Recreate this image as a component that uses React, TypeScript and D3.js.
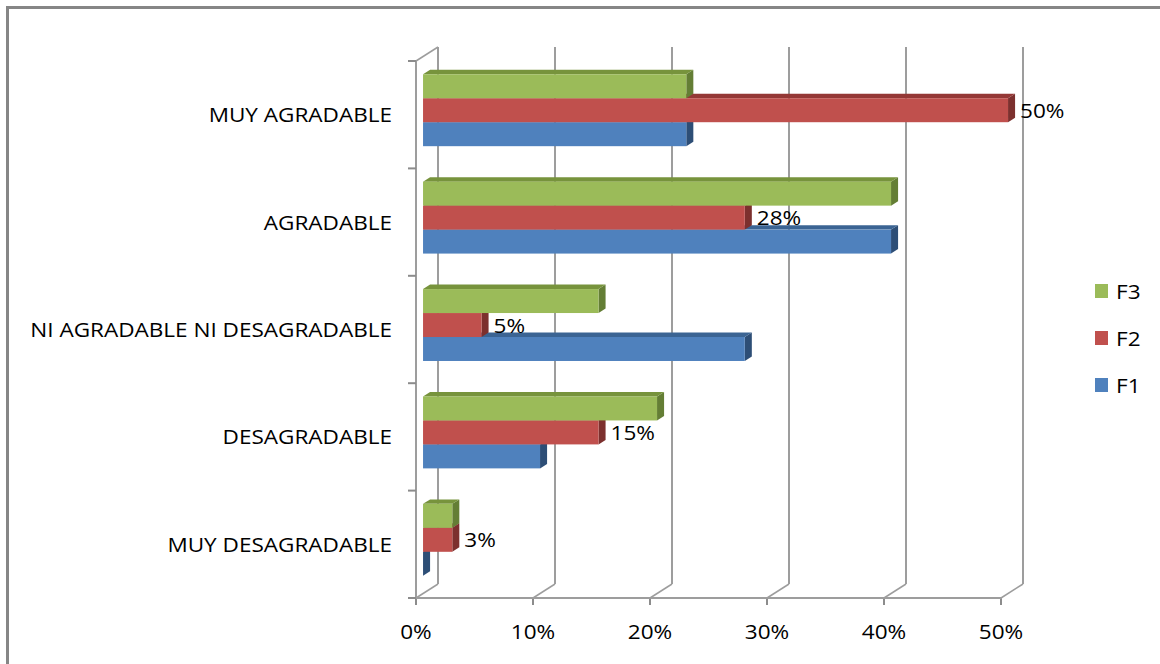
import React from 'react';
import * as d3 from 'd3';

const categories = ['MUY AGRADABLE', 'AGRADABLE', 'NI AGRADABLE NI DESAGRADABLE', 'DESAGRADABLE', 'MUY DESAGRADABLE'];
const seriesNames = ['F3', 'F2', 'F1'];
const f1Values = [0.225, 0.4, 0.275, 0.1, 0];
const f2Values = [0.5, 0.275, 0.05, 0.15, 0.025];
const f3Values = [0.225, 0.4, 0.15, 0.2, 0.025];
const xTickValues = [0, 0.1, 0.2, 0.3, 0.4, 0.5];
const labelledSeries = 'F2';

const W = 1160;
const H = 664;
const FRONT_LEFT = 416;
const FRONT_RIGHT = 1001;
const FRONT_TOP = 61;
const FRONT_BOTTOM = 598;
const DX = 22;
const DY = -14;
const Z_FRONT = 0.32;
const Z_BACK = 0.64;
const FONT = "'Open Sans', 'Liberation Sans', sans-serif";
const FS = 20.5;
const SX = 1.1;

const colors: Record<string, { front: string; top: string; side: string }> = {
  F1: { front: '#4F81BD', top: '#3B6493', side: '#2D4E76' },
  F2: { front: '#C0504D', top: '#943836', side: '#7C302E' },
  F3: { front: '#9BBB59', top: '#77933C', side: '#647E35' },
};

const valuesBySeries: Record<string, number[]> = { F1: f1Values, F2: f2Values, F3: f3Values };

const fmt = d3.format('.0%');

function SText({ x, y, anchor, children }: { x: number; y: number; anchor: string; children: React.ReactNode }) {
  return (
    <text
      transform={`translate(${x},${y}) scale(${SX},1)`}
      textAnchor={anchor}
      fontFamily={FONT}
      fontSize={FS}
      fill="#000"
    >
      {children}
    </text>
  );
}

export default function App() {
  const x = d3.scaleLinear().domain([0, 0.5]).range([FRONT_LEFT, FRONT_RIGHT]);
  const y0 = d3.scaleBand<string>().domain(categories).range([FRONT_TOP, FRONT_BOTTOM]).padding(0);
  const y1 = d3
    .scaleBand<string>()
    .domain(seriesNames)
    .range([0, y0.bandwidth()])
    .paddingInner(0)
    .paddingOuter(0.74);

  const zfx = Z_FRONT * DX;
  const zfy = Z_FRONT * DY;
  const ddx = (Z_BACK - Z_FRONT) * DX;
  const ddy = (Z_BACK - Z_FRONT) * DY;
  const gridColor = '#9d9d9d';
  const drawOrder = [...seriesNames].reverse();

  const boundaries = [...categories.map((c) => y0(c) as number), FRONT_BOTTOM];

  return (
    <svg
      width={W}
      height={H}
      style={{ position: 'absolute', left: 0, top: 0, display: 'block', background: '#fff' }}
    >
      <rect x={0} y={0} width={W} height={H} fill="#fff" />
      <rect x={7.5} y={7.5} width={W + 40} height={H + 40} fill="none" stroke="#868686" strokeWidth={3} />

      {/* back wall gridlines and floor diagonals */}
      {xTickValues.map((t) => (
        <g key={`g${t}`}>
          <line
            x1={x(t) + DX}
            x2={x(t) + DX}
            y1={FRONT_BOTTOM + DY}
            y2={FRONT_TOP + DY}
            stroke={gridColor}
            strokeWidth={2}
          />
          <line
            x1={x(t)}
            x2={x(t) + DX}
            y1={FRONT_BOTTOM}
            y2={FRONT_BOTTOM + DY}
            stroke={gridColor}
            strokeWidth={1.5}
          />
          <line x1={x(t)} x2={x(t)} y1={FRONT_BOTTOM} y2={FRONT_BOTTOM + 7} stroke="#8c8c8c" strokeWidth={2} />
        </g>
      ))}

      {/* left wall edge */}
      <line x1={FRONT_LEFT} x2={FRONT_LEFT} y1={FRONT_TOP} y2={FRONT_BOTTOM} stroke={gridColor} strokeWidth={2} />
      <line
        x1={FRONT_LEFT}
        x2={FRONT_LEFT + DX}
        y1={FRONT_TOP}
        y2={FRONT_TOP + DY}
        stroke={gridColor}
        strokeWidth={1.5}
      />
      {/* bottom axis */}
      <line x1={FRONT_LEFT - 1} x2={FRONT_RIGHT + 1} y1={FRONT_BOTTOM} y2={FRONT_BOTTOM} stroke={gridColor} strokeWidth={2} />
      {/* left ticks */}
      {boundaries.map((b, i) => (
        <line key={`lt${i}`} x1={FRONT_LEFT - 8} x2={FRONT_LEFT} y1={b} y2={b} stroke="#8c8c8c" strokeWidth={2} />
      ))}

      {/* bars */}
      {categories.map((cat, ci) => (
        <g key={cat}>
          {drawOrder.map((s) => {
            const v = valuesBySeries[s][ci];
            const x0 = x(0) + zfx;
            const x1 = x(v) + zfx;
            const yt = (y0(cat) as number) + (y1(s) as number) + zfy;
            const yb = yt + y1.bandwidth();
            const c = colors[s];
            return (
              <g key={s}>
                <polygon
                  points={`${x1},${yt} ${x1 + ddx},${yt + ddy} ${x1 + ddx},${yb + ddy} ${x1},${yb}`}
                  fill={c.side}
                />
                <polygon
                  points={`${x0},${yt} ${x1},${yt} ${x1 + ddx},${yt + ddy} ${x0 + ddx},${yt + ddy}`}
                  fill={c.top}
                />
                <rect x={x0} y={yt} width={Math.max(0, x1 - x0)} height={yb - yt} fill={c.front} />
              </g>
            );
          })}
        </g>
      ))}

      {/* value labels */}
      {categories.map((cat, ci) => {
        const v = valuesBySeries[labelledSeries][ci];
        const yc = (y0(cat) as number) + (y1(labelledSeries) as number) + zfy + y1.bandwidth() / 2;
        return (
          <SText key={`vl${cat}`} x={x(v) + Z_BACK * DX + 5} y={yc + 7.5} anchor="start">
            {fmt(v)}
          </SText>
        );
      })}

      {/* category labels */}
      {categories.map((cat) => (
        <SText
          key={`cl${cat}`}
          x={FRONT_LEFT - 24}
          y={(y0(cat) as number) + y0.bandwidth() / 2 + 7.5}
          anchor="end"
        >
          {cat}
        </SText>
      ))}

      {/* x tick labels */}
      {xTickValues.map((t) => (
        <SText key={`xl${t}`} x={x(t)} y={639} anchor="middle">
          {fmt(t)}
        </SText>
      ))}

      {/* legend */}
      {seriesNames.map((s, i) => (
        <g key={`lg${s}`}>
          <rect x={1095} y={284 + i * 47} width={13} height={14} fill={colors[s].front} />
          <SText x={1116} y={299 + i * 47} anchor="start">
            {s}
          </SText>
        </g>
      ))}
    </svg>
  );
}
